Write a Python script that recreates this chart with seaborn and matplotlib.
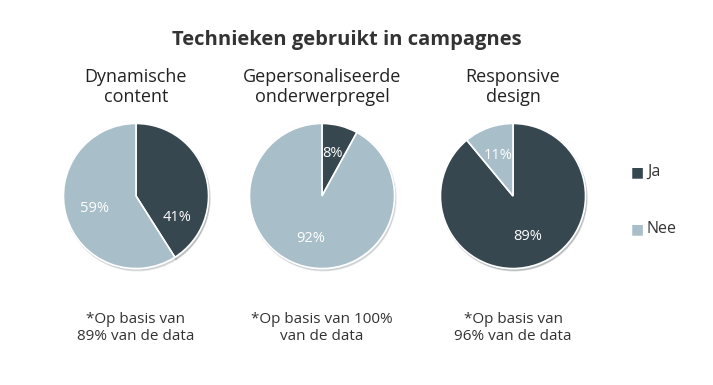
import matplotlib
matplotlib.use("Agg")
import matplotlib.pyplot as plt
import seaborn as sns

# data
categories = ["Ja", "Nee"]
chart_titles = ["Dynamische\ncontent", "Gepersonaliseerde\nonderwerpregel", "Responsive\ndesign"]
ja_values = [41, 8, 89]
nee_values = [59, 92, 11]
footnotes = ["*Op basis van\n89% van de data", "*Op basis van 100%\nvan de data", "*Op basis van\n96% van de data"]
main_title = "Technieken gebruikt in campagnes"

sns.set_theme(style="white")
colors = sns.color_palette(["#37474f", "#a8bec8"])
plt.rcParams['font.family'] = ['Open Sans', 'DejaVu Sans']

W, H = 713, 385
fig = plt.figure(figsize=(W / 100, H / 100), dpi=100)
fig.patch.set_facecolor("white")

centers_x = [136, 322, 513]
cy = 196
r = 74

def fx(px):
    return px / W

def fy(py):
    return 1 - py / H

fig.text(fx(347), fy(40), main_title, ha="center", va="center",
         fontsize=14.5, fontweight="bold", color="#333333")

for i, cx in enumerate(centers_x):
    ax = fig.add_axes([fx(cx - r), fy(cy + r), 2 * r / W, 2 * r / H])
    vals = [ja_values[i], nee_values[i]]
    wedges, texts, autotexts = ax.pie(
        vals, colors=colors, startangle=90, counterclock=False,
        autopct=lambda p: f"{p:.0f}%", pctdistance=0.6,
        wedgeprops=dict(edgecolor="white", linewidth=1.2),
        textprops=dict(color="white", fontsize=10.5),
        shadow=dict(ox=0.012, oy=-0.02, shade=0.4, alpha=0.2))
    ax.set_aspect("equal")
    ax.set_xlim(-1.02, 1.02)
    ax.set_ylim(-1.02, 1.02)
    ax.axis("off")
    if i == 0:
        # Excel-like placement of the small dark label
        autotexts[0].set_position((0.57, -0.29))
    fig.text(fx(cx), fy(87), chart_titles[i], ha="center", va="center",
             fontsize=13, color="#222222", linespacing=1.2)
    fig.text(fx(cx), fy(328), footnotes[i], ha="center", va="center",
             fontsize=11, color="#333333", linespacing=1.2)

# legend
for name, col, y in zip(categories, colors, [172, 229]):
    fig.text(fx(637), fy(y), "■", ha="center", va="center", fontsize=10,
             color=col, family=["DejaVu Sans"])
    fig.text(fx(647), fy(y), name, ha="left", va="center", fontsize=11.5,
             color="#333333")

fig.savefig("out.png", dpi=100, facecolor="white")
